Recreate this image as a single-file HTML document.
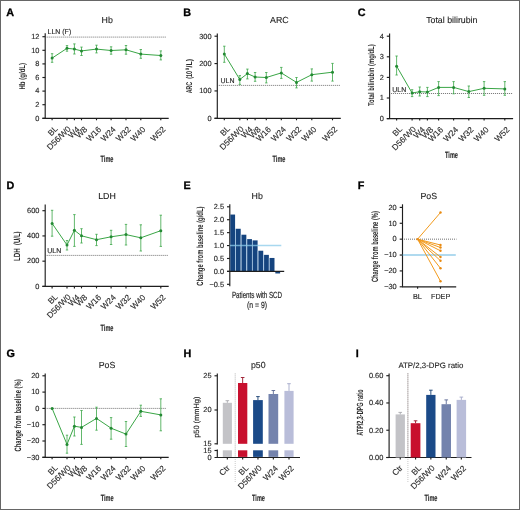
<!DOCTYPE html><html><head><meta charset="utf-8"><style>html,body{margin:0;padding:0;background:#fff}svg{display:block;will-change:transform}text{font-family:"Liberation Sans",sans-serif;text-rendering:geometricPrecision}</style></head><body>
<svg width="520" height="510" viewBox="0 0 520 510">
<rect x="0" y="0" width="520" height="510" fill="#fff"/>
<text x="6.3" y="16.1" font-size="10.8" text-anchor="start" fill="#000" stroke="#000" stroke-width="0.3" font-weight="bold" >A</text>
<text x="107.2" y="22.7" font-size="8.8" text-anchor="middle" fill="#1a1a1a" stroke="#1a1a1a" stroke-width="0.1" >Hb</text>
<line x1="45.2" y1="33.2" x2="45.2" y2="118.3" stroke="#1e1e1e" stroke-width="1.15" />
<line x1="42.4" y1="118.3" x2="45.2" y2="118.3" stroke="#1e1e1e" stroke-width="1.15" />
<text x="39.4" y="120.6" font-size="7.4" text-anchor="end" fill="#2a2a2a" stroke="#2a2a2a" stroke-width="0.15" >0</text>
<line x1="42.4" y1="104.7" x2="45.2" y2="104.7" stroke="#1e1e1e" stroke-width="1.15" />
<text x="39.4" y="107" font-size="7.4" text-anchor="end" fill="#2a2a2a" stroke="#2a2a2a" stroke-width="0.15" >2</text>
<line x1="42.4" y1="91.1" x2="45.2" y2="91.1" stroke="#1e1e1e" stroke-width="1.15" />
<text x="39.4" y="93.4" font-size="7.4" text-anchor="end" fill="#2a2a2a" stroke="#2a2a2a" stroke-width="0.15" >4</text>
<line x1="42.4" y1="77.5" x2="45.2" y2="77.5" stroke="#1e1e1e" stroke-width="1.15" />
<text x="39.4" y="79.8" font-size="7.4" text-anchor="end" fill="#2a2a2a" stroke="#2a2a2a" stroke-width="0.15" >6</text>
<line x1="42.4" y1="63.9" x2="45.2" y2="63.9" stroke="#1e1e1e" stroke-width="1.15" />
<text x="39.4" y="66.2" font-size="7.4" text-anchor="end" fill="#2a2a2a" stroke="#2a2a2a" stroke-width="0.15" >8</text>
<line x1="42.4" y1="50.3" x2="45.2" y2="50.3" stroke="#1e1e1e" stroke-width="1.15" />
<text x="39.4" y="52.6" font-size="7.4" text-anchor="end" fill="#2a2a2a" stroke="#2a2a2a" stroke-width="0.15" >10</text>
<line x1="42.4" y1="36.7" x2="45.2" y2="36.7" stroke="#1e1e1e" stroke-width="1.15" />
<text x="39.4" y="39" font-size="7.4" text-anchor="end" fill="#2a2a2a" stroke="#2a2a2a" stroke-width="0.15" >12</text>
<line x1="42.4" y1="118.3" x2="168.7" y2="118.3" stroke="#1e1e1e" stroke-width="1.15" />
<line x1="52.1" y1="118.3" x2="52.1" y2="120.3" stroke="#1e1e1e" stroke-width="1.15" />
<line x1="67" y1="118.3" x2="67" y2="120.3" stroke="#1e1e1e" stroke-width="1.15" />
<line x1="74.4" y1="118.3" x2="74.4" y2="120.3" stroke="#1e1e1e" stroke-width="1.15" />
<line x1="81.5" y1="118.3" x2="81.5" y2="120.3" stroke="#1e1e1e" stroke-width="1.15" />
<line x1="96.5" y1="118.3" x2="96.5" y2="120.3" stroke="#1e1e1e" stroke-width="1.15" />
<line x1="111.1" y1="118.3" x2="111.1" y2="120.3" stroke="#1e1e1e" stroke-width="1.15" />
<line x1="126" y1="118.3" x2="126" y2="120.3" stroke="#1e1e1e" stroke-width="1.15" />
<line x1="140.8" y1="118.3" x2="140.8" y2="120.3" stroke="#1e1e1e" stroke-width="1.15" />
<line x1="160.8" y1="118.3" x2="160.8" y2="120.3" stroke="#1e1e1e" stroke-width="1.15" />
<text x="58.4" y="129.3" font-size="8.3" text-anchor="end" fill="#2a2a2a" stroke="#2a2a2a" stroke-width="0.12" transform="rotate(-45 58.4 129.3)" >BL</text>
<text x="71.4" y="129.4" font-size="8.3" text-anchor="end" fill="#2a2a2a" stroke="#2a2a2a" stroke-width="0.12" transform="rotate(-45 71.4 129.4)" >D56/W0</text>
<text x="80.2" y="129.9" font-size="8.3" text-anchor="end" fill="#2a2a2a" stroke="#2a2a2a" stroke-width="0.12" transform="rotate(-45 80.2 129.9)" >W4</text>
<text x="87.8" y="129.9" font-size="8.3" text-anchor="end" fill="#2a2a2a" stroke="#2a2a2a" stroke-width="0.12" transform="rotate(-45 87.8 129.9)" >W8</text>
<text x="101.8" y="129.9" font-size="8.3" text-anchor="end" fill="#2a2a2a" stroke="#2a2a2a" stroke-width="0.12" transform="rotate(-45 101.8 129.9)" >W16</text>
<text x="116.4" y="129.9" font-size="8.3" text-anchor="end" fill="#2a2a2a" stroke="#2a2a2a" stroke-width="0.12" transform="rotate(-45 116.4 129.9)" >W24</text>
<text x="131.3" y="129.9" font-size="8.3" text-anchor="end" fill="#2a2a2a" stroke="#2a2a2a" stroke-width="0.12" transform="rotate(-45 131.3 129.9)" >W32</text>
<text x="146.1" y="129.9" font-size="8.3" text-anchor="end" fill="#2a2a2a" stroke="#2a2a2a" stroke-width="0.12" transform="rotate(-45 146.1 129.9)" >W40</text>
<text x="166.1" y="129.9" font-size="8.3" text-anchor="end" fill="#2a2a2a" stroke="#2a2a2a" stroke-width="0.12" transform="rotate(-45 166.1 129.9)" >W52</text>
<line x1="46.7" y1="37.1" x2="165.7" y2="37.1" stroke="#606060" stroke-width="0.9" stroke-dasharray="1 1"/>
<text x="47.5" y="33.8" font-size="7" text-anchor="start" fill="#2a2a2a" stroke="#2a2a2a" stroke-width="0.15" >LLN (F)</text>
<path d="M52.1,58.1 L67,48.3 L74.4,49.1 L81.5,50.9 L96.5,49.1 L111.1,50.5 L126,49.8 L140.8,54.1 L160.8,55.5" fill="none" stroke="#3aa646" stroke-width="1.0"/>
<path d="M52.1,53.7V62.3M50.9,53.7H53.3M50.9,62.3H53.3" stroke="#3aa646" stroke-width="0.8" fill="none"/>
<circle cx="52.1" cy="58.1" r="1.5" fill="#238a33"/>
<path d="M67,45.6V51.2M65.8,45.6H68.2M65.8,51.2H68.2" stroke="#3aa646" stroke-width="0.8" fill="none"/>
<circle cx="67" cy="48.3" r="1.5" fill="#238a33"/>
<path d="M74.4,43.9V54M73.2,43.9H75.6M73.2,54H75.6" stroke="#3aa646" stroke-width="0.8" fill="none"/>
<circle cx="74.4" cy="49.1" r="1.5" fill="#238a33"/>
<path d="M81.5,47.1V55.5M80.3,47.1H82.7M80.3,55.5H82.7" stroke="#3aa646" stroke-width="0.8" fill="none"/>
<circle cx="81.5" cy="50.9" r="1.5" fill="#238a33"/>
<path d="M96.5,45.2V52.9M95.3,45.2H97.7M95.3,52.9H97.7" stroke="#3aa646" stroke-width="0.8" fill="none"/>
<circle cx="96.5" cy="49.1" r="1.5" fill="#238a33"/>
<path d="M111.1,46.8V54.2M109.9,46.8H112.3M109.9,54.2H112.3" stroke="#3aa646" stroke-width="0.8" fill="none"/>
<circle cx="111.1" cy="50.5" r="1.5" fill="#238a33"/>
<path d="M126,45.5V54.2M124.8,45.5H127.2M124.8,54.2H127.2" stroke="#3aa646" stroke-width="0.8" fill="none"/>
<circle cx="126" cy="49.8" r="1.5" fill="#238a33"/>
<path d="M140.8,49.5V58.3M139.6,49.5H142M139.6,58.3H142" stroke="#3aa646" stroke-width="0.8" fill="none"/>
<circle cx="140.8" cy="54.1" r="1.5" fill="#238a33"/>
<path d="M160.8,50.9V59.9M159.6,50.9H162M159.6,59.9H162" stroke="#3aa646" stroke-width="0.8" fill="none"/>
<circle cx="160.8" cy="55.5" r="1.5" fill="#238a33"/>
<text x="25.2" y="76.2" font-size="8.4" text-anchor="middle" fill="#2a2a2a" font-weight="bold" textLength="26.6" lengthAdjust="spacingAndGlyphs" transform="rotate(-90 25.2 76.2)" >Hb (g/dL)</text>
<text x="107" y="162" font-size="9" text-anchor="middle" fill="#2a2a2a" stroke="#2a2a2a" stroke-width="0.15" font-weight="bold" textLength="12.8" lengthAdjust="spacingAndGlyphs" >Time</text>
<text x="183.3" y="16.1" font-size="10.8" text-anchor="start" fill="#000" stroke="#000" stroke-width="0.3" font-weight="bold" >B</text>
<text x="279.4" y="22.7" font-size="8.8" text-anchor="middle" fill="#1a1a1a" stroke="#1a1a1a" stroke-width="0.1" >ARC</text>
<line x1="217.3" y1="33.6" x2="217.3" y2="118.3" stroke="#1e1e1e" stroke-width="1.15" />
<line x1="214.5" y1="118.3" x2="217.3" y2="118.3" stroke="#1e1e1e" stroke-width="1.15" />
<text x="211.5" y="120.6" font-size="7.4" text-anchor="end" fill="#2a2a2a" stroke="#2a2a2a" stroke-width="0.15" >0</text>
<line x1="214.5" y1="90.93" x2="217.3" y2="90.93" stroke="#1e1e1e" stroke-width="1.15" />
<text x="211.5" y="93.23" font-size="7.4" text-anchor="end" fill="#2a2a2a" stroke="#2a2a2a" stroke-width="0.15" >100</text>
<line x1="214.5" y1="63.57" x2="217.3" y2="63.57" stroke="#1e1e1e" stroke-width="1.15" />
<text x="211.5" y="65.87" font-size="7.4" text-anchor="end" fill="#2a2a2a" stroke="#2a2a2a" stroke-width="0.15" >200</text>
<line x1="214.5" y1="36.2" x2="217.3" y2="36.2" stroke="#1e1e1e" stroke-width="1.15" />
<text x="211.5" y="38.5" font-size="7.4" text-anchor="end" fill="#2a2a2a" stroke="#2a2a2a" stroke-width="0.15" >300</text>
<line x1="214.5" y1="118.3" x2="340.8" y2="118.3" stroke="#1e1e1e" stroke-width="1.15" />
<line x1="224.3" y1="118.3" x2="224.3" y2="120.3" stroke="#1e1e1e" stroke-width="1.15" />
<line x1="239.8" y1="118.3" x2="239.8" y2="120.3" stroke="#1e1e1e" stroke-width="1.15" />
<line x1="247.4" y1="118.3" x2="247.4" y2="120.3" stroke="#1e1e1e" stroke-width="1.15" />
<line x1="255.1" y1="118.3" x2="255.1" y2="120.3" stroke="#1e1e1e" stroke-width="1.15" />
<line x1="266.3" y1="118.3" x2="266.3" y2="120.3" stroke="#1e1e1e" stroke-width="1.15" />
<line x1="281.3" y1="118.3" x2="281.3" y2="120.3" stroke="#1e1e1e" stroke-width="1.15" />
<line x1="296.5" y1="118.3" x2="296.5" y2="120.3" stroke="#1e1e1e" stroke-width="1.15" />
<line x1="311.8" y1="118.3" x2="311.8" y2="120.3" stroke="#1e1e1e" stroke-width="1.15" />
<line x1="332.5" y1="118.3" x2="332.5" y2="120.3" stroke="#1e1e1e" stroke-width="1.15" />
<text x="230.6" y="129.3" font-size="8.3" text-anchor="end" fill="#2a2a2a" stroke="#2a2a2a" stroke-width="0.12" transform="rotate(-45 230.6 129.3)" >BL</text>
<text x="244.2" y="129.4" font-size="8.3" text-anchor="end" fill="#2a2a2a" stroke="#2a2a2a" stroke-width="0.12" transform="rotate(-45 244.2 129.4)" >D56/W0</text>
<text x="253.2" y="129.9" font-size="8.3" text-anchor="end" fill="#2a2a2a" stroke="#2a2a2a" stroke-width="0.12" transform="rotate(-45 253.2 129.9)" >W4</text>
<text x="261.4" y="129.9" font-size="8.3" text-anchor="end" fill="#2a2a2a" stroke="#2a2a2a" stroke-width="0.12" transform="rotate(-45 261.4 129.9)" >W8</text>
<text x="271.6" y="129.9" font-size="8.3" text-anchor="end" fill="#2a2a2a" stroke="#2a2a2a" stroke-width="0.12" transform="rotate(-45 271.6 129.9)" >W16</text>
<text x="286.6" y="129.9" font-size="8.3" text-anchor="end" fill="#2a2a2a" stroke="#2a2a2a" stroke-width="0.12" transform="rotate(-45 286.6 129.9)" >W24</text>
<text x="301.8" y="129.9" font-size="8.3" text-anchor="end" fill="#2a2a2a" stroke="#2a2a2a" stroke-width="0.12" transform="rotate(-45 301.8 129.9)" >W32</text>
<text x="317.1" y="129.9" font-size="8.3" text-anchor="end" fill="#2a2a2a" stroke="#2a2a2a" stroke-width="0.12" transform="rotate(-45 317.1 129.9)" >W40</text>
<text x="337.8" y="129.9" font-size="8.3" text-anchor="end" fill="#2a2a2a" stroke="#2a2a2a" stroke-width="0.12" transform="rotate(-45 337.8 129.9)" >W52</text>
<line x1="218.8" y1="85.4" x2="340.3" y2="85.4" stroke="#606060" stroke-width="0.9" stroke-dasharray="1 1"/>
<text x="220.5" y="83.4" font-size="7" text-anchor="start" fill="#2a2a2a" stroke="#2a2a2a" stroke-width="0.15" >ULN</text>
<path d="M224.3,54 L239.8,79.5 L247.4,73.6 L255.1,77 L266.3,77.5 L281.3,72.9 L296.5,82.4 L311.8,74.7 L332.5,72.2" fill="none" stroke="#3aa646" stroke-width="1.0"/>
<path d="M224.3,46.2V62.3M223.1,46.2H225.5M223.1,62.3H225.5" stroke="#3aa646" stroke-width="0.8" fill="none"/>
<circle cx="224.3" cy="54" r="1.5" fill="#238a33"/>
<path d="M239.8,75.6V84.4M238.6,75.6H241M238.6,84.4H241" stroke="#3aa646" stroke-width="0.8" fill="none"/>
<circle cx="239.8" cy="79.5" r="1.5" fill="#238a33"/>
<path d="M247.4,69.1V78.9M246.2,69.1H248.6M246.2,78.9H248.6" stroke="#3aa646" stroke-width="0.8" fill="none"/>
<circle cx="247.4" cy="73.6" r="1.5" fill="#238a33"/>
<path d="M255.1,72.5V81.3M253.9,72.5H256.3M253.9,81.3H256.3" stroke="#3aa646" stroke-width="0.8" fill="none"/>
<circle cx="255.1" cy="77" r="1.5" fill="#238a33"/>
<path d="M266.3,72.5V82.9M265.1,72.5H267.5M265.1,82.9H267.5" stroke="#3aa646" stroke-width="0.8" fill="none"/>
<circle cx="266.3" cy="77.5" r="1.5" fill="#238a33"/>
<path d="M281.3,67.4V78.4M280.1,67.4H282.5M280.1,78.4H282.5" stroke="#3aa646" stroke-width="0.8" fill="none"/>
<circle cx="281.3" cy="72.9" r="1.5" fill="#238a33"/>
<path d="M296.5,77.5V87.9M295.3,77.5H297.7M295.3,87.9H297.7" stroke="#3aa646" stroke-width="0.8" fill="none"/>
<circle cx="296.5" cy="82.4" r="1.5" fill="#238a33"/>
<path d="M311.8,68.9V81.1M310.6,68.9H313M310.6,81.1H313" stroke="#3aa646" stroke-width="0.8" fill="none"/>
<circle cx="311.8" cy="74.7" r="1.5" fill="#238a33"/>
<path d="M332.5,63.4V81.1M331.3,63.4H333.7M331.3,81.1H333.7" stroke="#3aa646" stroke-width="0.8" fill="none"/>
<circle cx="332.5" cy="72.2" r="1.5" fill="#238a33"/>
<text x="192.3" y="87.6" font-size="8.4" text-anchor="middle" fill="#2a2a2a" font-weight="bold" textLength="11.5" lengthAdjust="spacingAndGlyphs" transform="rotate(-90 192.3 87.6)" >ARC</text>
<text x="192.3" y="74.85" font-size="8.4" text-anchor="middle" fill="#2a2a2a" font-weight="bold" textLength="7.9" lengthAdjust="spacingAndGlyphs" transform="rotate(-90 192.3 74.85)" >(10</text>
<text x="189.4" y="69.1" font-size="5" text-anchor="middle" fill="#2a2a2a" font-weight="bold" textLength="2.4" lengthAdjust="spacingAndGlyphs" transform="rotate(-90 189.4 69.1)" >9</text>
<text x="192.3" y="63.2" font-size="8.4" text-anchor="middle" fill="#2a2a2a" font-weight="bold" textLength="8.5" lengthAdjust="spacingAndGlyphs" transform="rotate(-90 192.3 63.2)" >/L)</text>
<text x="279" y="162" font-size="9" text-anchor="middle" fill="#2a2a2a" stroke="#2a2a2a" stroke-width="0.15" font-weight="bold" textLength="12.8" lengthAdjust="spacingAndGlyphs" >Time</text>
<text x="357.8" y="16.1" font-size="10.8" text-anchor="start" fill="#000" stroke="#000" stroke-width="0.3" font-weight="bold" >C</text>
<text x="451.8" y="22.7" font-size="8.8" text-anchor="middle" fill="#1a1a1a" stroke="#1a1a1a" stroke-width="0.1" >Total bilirubin</text>
<line x1="389.6" y1="33.6" x2="389.6" y2="118.6" stroke="#1e1e1e" stroke-width="1.15" />
<line x1="386.8" y1="118.6" x2="389.6" y2="118.6" stroke="#1e1e1e" stroke-width="1.15" />
<text x="383.8" y="120.9" font-size="7.4" text-anchor="end" fill="#2a2a2a" stroke="#2a2a2a" stroke-width="0.15" >0</text>
<line x1="386.8" y1="98" x2="389.6" y2="98" stroke="#1e1e1e" stroke-width="1.15" />
<text x="383.8" y="100.3" font-size="7.4" text-anchor="end" fill="#2a2a2a" stroke="#2a2a2a" stroke-width="0.15" >1</text>
<line x1="386.8" y1="77.4" x2="389.6" y2="77.4" stroke="#1e1e1e" stroke-width="1.15" />
<text x="383.8" y="79.7" font-size="7.4" text-anchor="end" fill="#2a2a2a" stroke="#2a2a2a" stroke-width="0.15" >2</text>
<line x1="386.8" y1="56.8" x2="389.6" y2="56.8" stroke="#1e1e1e" stroke-width="1.15" />
<text x="383.8" y="59.1" font-size="7.4" text-anchor="end" fill="#2a2a2a" stroke="#2a2a2a" stroke-width="0.15" >3</text>
<line x1="386.8" y1="36.2" x2="389.6" y2="36.2" stroke="#1e1e1e" stroke-width="1.15" />
<text x="383.8" y="38.5" font-size="7.4" text-anchor="end" fill="#2a2a2a" stroke="#2a2a2a" stroke-width="0.15" >4</text>
<line x1="386.8" y1="118.6" x2="513.1" y2="118.6" stroke="#1e1e1e" stroke-width="1.15" />
<line x1="396.6" y1="118.6" x2="396.6" y2="120.6" stroke="#1e1e1e" stroke-width="1.15" />
<line x1="412.1" y1="118.6" x2="412.1" y2="120.6" stroke="#1e1e1e" stroke-width="1.15" />
<line x1="419.7" y1="118.6" x2="419.7" y2="120.6" stroke="#1e1e1e" stroke-width="1.15" />
<line x1="427.4" y1="118.6" x2="427.4" y2="120.6" stroke="#1e1e1e" stroke-width="1.15" />
<line x1="438.6" y1="118.6" x2="438.6" y2="120.6" stroke="#1e1e1e" stroke-width="1.15" />
<line x1="453.6" y1="118.6" x2="453.6" y2="120.6" stroke="#1e1e1e" stroke-width="1.15" />
<line x1="468.8" y1="118.6" x2="468.8" y2="120.6" stroke="#1e1e1e" stroke-width="1.15" />
<line x1="484.1" y1="118.6" x2="484.1" y2="120.6" stroke="#1e1e1e" stroke-width="1.15" />
<line x1="504.8" y1="118.6" x2="504.8" y2="120.6" stroke="#1e1e1e" stroke-width="1.15" />
<text x="402.9" y="129.6" font-size="8.3" text-anchor="end" fill="#2a2a2a" stroke="#2a2a2a" stroke-width="0.12" transform="rotate(-45 402.9 129.6)" >BL</text>
<text x="416.5" y="129.7" font-size="8.3" text-anchor="end" fill="#2a2a2a" stroke="#2a2a2a" stroke-width="0.12" transform="rotate(-45 416.5 129.7)" >D56/W0</text>
<text x="425.5" y="130.2" font-size="8.3" text-anchor="end" fill="#2a2a2a" stroke="#2a2a2a" stroke-width="0.12" transform="rotate(-45 425.5 130.2)" >W4</text>
<text x="433.7" y="130.2" font-size="8.3" text-anchor="end" fill="#2a2a2a" stroke="#2a2a2a" stroke-width="0.12" transform="rotate(-45 433.7 130.2)" >W8</text>
<text x="443.9" y="130.2" font-size="8.3" text-anchor="end" fill="#2a2a2a" stroke="#2a2a2a" stroke-width="0.12" transform="rotate(-45 443.9 130.2)" >W16</text>
<text x="458.9" y="130.2" font-size="8.3" text-anchor="end" fill="#2a2a2a" stroke="#2a2a2a" stroke-width="0.12" transform="rotate(-45 458.9 130.2)" >W24</text>
<text x="474.1" y="130.2" font-size="8.3" text-anchor="end" fill="#2a2a2a" stroke="#2a2a2a" stroke-width="0.12" transform="rotate(-45 474.1 130.2)" >W32</text>
<text x="489.4" y="130.2" font-size="8.3" text-anchor="end" fill="#2a2a2a" stroke="#2a2a2a" stroke-width="0.12" transform="rotate(-45 489.4 130.2)" >W40</text>
<text x="510.1" y="130.2" font-size="8.3" text-anchor="end" fill="#2a2a2a" stroke="#2a2a2a" stroke-width="0.12" transform="rotate(-45 510.1 130.2)" >W52</text>
<line x1="391.1" y1="93.5" x2="512.1" y2="93.5" stroke="#606060" stroke-width="0.9" stroke-dasharray="1 1"/>
<text x="392.3" y="91.7" font-size="7" text-anchor="start" fill="#2a2a2a" stroke="#2a2a2a" stroke-width="0.15" >ULN</text>
<path d="M396.6,66.2 L412.1,93 L419.7,91.7 L427.4,92 L438.6,87.4 L453.6,87.4 L468.8,91.6 L484.1,88.3 L504.8,88.9" fill="none" stroke="#3aa646" stroke-width="1.0"/>
<path d="M396.6,56V75M395.4,56H397.8M395.4,75H397.8" stroke="#3aa646" stroke-width="0.8" fill="none"/>
<circle cx="396.6" cy="66.2" r="1.5" fill="#238a33"/>
<path d="M412.1,89.7V96.6M410.9,89.7H413.3M410.9,96.6H413.3" stroke="#3aa646" stroke-width="0.8" fill="none"/>
<circle cx="412.1" cy="93" r="1.5" fill="#238a33"/>
<path d="M419.7,87V96M418.5,87H420.9M418.5,96H420.9" stroke="#3aa646" stroke-width="0.8" fill="none"/>
<circle cx="419.7" cy="91.7" r="1.5" fill="#238a33"/>
<path d="M427.4,87.4V96.6M426.2,87.4H428.6M426.2,96.6H428.6" stroke="#3aa646" stroke-width="0.8" fill="none"/>
<circle cx="427.4" cy="92" r="1.5" fill="#238a33"/>
<path d="M438.6,81.6V95.6M437.4,81.6H439.8M437.4,95.6H439.8" stroke="#3aa646" stroke-width="0.8" fill="none"/>
<circle cx="438.6" cy="87.4" r="1.5" fill="#238a33"/>
<path d="M453.6,81.6V93.8M452.4,81.6H454.8M452.4,93.8H454.8" stroke="#3aa646" stroke-width="0.8" fill="none"/>
<circle cx="453.6" cy="87.4" r="1.5" fill="#238a33"/>
<path d="M468.8,86V97.5M467.6,86H470M467.6,97.5H470" stroke="#3aa646" stroke-width="0.8" fill="none"/>
<circle cx="468.8" cy="91.6" r="1.5" fill="#238a33"/>
<path d="M484.1,81.6V95.3M482.9,81.6H485.3M482.9,95.3H485.3" stroke="#3aa646" stroke-width="0.8" fill="none"/>
<circle cx="484.1" cy="88.3" r="1.5" fill="#238a33"/>
<path d="M504.8,81.6V95.3M503.6,81.6H506M503.6,95.3H506" stroke="#3aa646" stroke-width="0.8" fill="none"/>
<circle cx="504.8" cy="88.9" r="1.5" fill="#238a33"/>
<text x="374.1" y="75.2" font-size="8.4" text-anchor="middle" fill="#2a2a2a" font-weight="bold" textLength="61.8" lengthAdjust="spacingAndGlyphs" transform="rotate(-90 374.1 75.2)" >Total bilirubin (mg/dL)</text>
<text x="451.5" y="158.3" font-size="9" text-anchor="middle" fill="#2a2a2a" stroke="#2a2a2a" stroke-width="0.15" font-weight="bold" textLength="12.8" lengthAdjust="spacingAndGlyphs" >Time</text>
<text x="6.5" y="188.7" font-size="10.8" text-anchor="start" fill="#000" stroke="#000" stroke-width="0.3" font-weight="bold" >D</text>
<text x="107" y="199.4" font-size="8.8" text-anchor="middle" fill="#1a1a1a" stroke="#1a1a1a" stroke-width="0.1" >LDH</text>
<line x1="45.2" y1="204.4" x2="45.2" y2="286.4" stroke="#1e1e1e" stroke-width="1.15" />
<line x1="42.4" y1="286.4" x2="45.2" y2="286.4" stroke="#1e1e1e" stroke-width="1.15" />
<text x="39.4" y="288.7" font-size="7.4" text-anchor="end" fill="#2a2a2a" stroke="#2a2a2a" stroke-width="0.15" >0</text>
<line x1="42.4" y1="261.17" x2="45.2" y2="261.17" stroke="#1e1e1e" stroke-width="1.15" />
<text x="39.4" y="263.47" font-size="7.4" text-anchor="end" fill="#2a2a2a" stroke="#2a2a2a" stroke-width="0.15" >200</text>
<line x1="42.4" y1="235.93" x2="45.2" y2="235.93" stroke="#1e1e1e" stroke-width="1.15" />
<text x="39.4" y="238.23" font-size="7.4" text-anchor="end" fill="#2a2a2a" stroke="#2a2a2a" stroke-width="0.15" >400</text>
<line x1="42.4" y1="210.7" x2="45.2" y2="210.7" stroke="#1e1e1e" stroke-width="1.15" />
<text x="39.4" y="213" font-size="7.4" text-anchor="end" fill="#2a2a2a" stroke="#2a2a2a" stroke-width="0.15" >600</text>
<line x1="42.4" y1="286.4" x2="168.7" y2="286.4" stroke="#1e1e1e" stroke-width="1.15" />
<line x1="52.1" y1="286.4" x2="52.1" y2="288.4" stroke="#1e1e1e" stroke-width="1.15" />
<line x1="67" y1="286.4" x2="67" y2="288.4" stroke="#1e1e1e" stroke-width="1.15" />
<line x1="74.4" y1="286.4" x2="74.4" y2="288.4" stroke="#1e1e1e" stroke-width="1.15" />
<line x1="81.5" y1="286.4" x2="81.5" y2="288.4" stroke="#1e1e1e" stroke-width="1.15" />
<line x1="96.5" y1="286.4" x2="96.5" y2="288.4" stroke="#1e1e1e" stroke-width="1.15" />
<line x1="111.1" y1="286.4" x2="111.1" y2="288.4" stroke="#1e1e1e" stroke-width="1.15" />
<line x1="126" y1="286.4" x2="126" y2="288.4" stroke="#1e1e1e" stroke-width="1.15" />
<line x1="140.8" y1="286.4" x2="140.8" y2="288.4" stroke="#1e1e1e" stroke-width="1.15" />
<line x1="160.8" y1="286.4" x2="160.8" y2="288.4" stroke="#1e1e1e" stroke-width="1.15" />
<text x="58.4" y="297.4" font-size="8.3" text-anchor="end" fill="#2a2a2a" stroke="#2a2a2a" stroke-width="0.12" transform="rotate(-45 58.4 297.4)" >BL</text>
<text x="71.4" y="297.5" font-size="8.3" text-anchor="end" fill="#2a2a2a" stroke="#2a2a2a" stroke-width="0.12" transform="rotate(-45 71.4 297.5)" >D56/W0</text>
<text x="80.2" y="298" font-size="8.3" text-anchor="end" fill="#2a2a2a" stroke="#2a2a2a" stroke-width="0.12" transform="rotate(-45 80.2 298)" >W4</text>
<text x="87.8" y="298" font-size="8.3" text-anchor="end" fill="#2a2a2a" stroke="#2a2a2a" stroke-width="0.12" transform="rotate(-45 87.8 298)" >W8</text>
<text x="101.8" y="298" font-size="8.3" text-anchor="end" fill="#2a2a2a" stroke="#2a2a2a" stroke-width="0.12" transform="rotate(-45 101.8 298)" >W16</text>
<text x="116.4" y="298" font-size="8.3" text-anchor="end" fill="#2a2a2a" stroke="#2a2a2a" stroke-width="0.12" transform="rotate(-45 116.4 298)" >W24</text>
<text x="131.3" y="298" font-size="8.3" text-anchor="end" fill="#2a2a2a" stroke="#2a2a2a" stroke-width="0.12" transform="rotate(-45 131.3 298)" >W32</text>
<text x="146.1" y="298" font-size="8.3" text-anchor="end" fill="#2a2a2a" stroke="#2a2a2a" stroke-width="0.12" transform="rotate(-45 146.1 298)" >W40</text>
<text x="166.1" y="298" font-size="8.3" text-anchor="end" fill="#2a2a2a" stroke="#2a2a2a" stroke-width="0.12" transform="rotate(-45 166.1 298)" >W52</text>
<line x1="46.7" y1="255.4" x2="167.9" y2="255.4" stroke="#606060" stroke-width="0.9" stroke-dasharray="1 1"/>
<text x="47.2" y="252.8" font-size="7" text-anchor="start" fill="#2a2a2a" stroke="#2a2a2a" stroke-width="0.15" >ULN</text>
<path d="M52.1,223.4 L67,245 L74.4,230.3 L81.5,235.8 L96.5,239.7 L111.1,236.8 L126,234.6 L140.8,237.8 L160.8,230.7" fill="none" stroke="#3aa646" stroke-width="1.0"/>
<path d="M52.1,210.3V236.2M50.9,210.3H53.3M50.9,236.2H53.3" stroke="#3aa646" stroke-width="0.8" fill="none"/>
<circle cx="52.1" cy="223.4" r="1.5" fill="#238a33"/>
<path d="M67,240.5V250M65.8,240.5H68.2M65.8,250H68.2" stroke="#3aa646" stroke-width="0.8" fill="none"/>
<circle cx="67" cy="245" r="1.5" fill="#238a33"/>
<path d="M74.4,214.6V246.4M73.2,214.6H75.6M73.2,246.4H75.6" stroke="#3aa646" stroke-width="0.8" fill="none"/>
<circle cx="74.4" cy="230.3" r="1.5" fill="#238a33"/>
<path d="M81.5,228.7V243M80.3,228.7H82.7M80.3,243H82.7" stroke="#3aa646" stroke-width="0.8" fill="none"/>
<circle cx="81.5" cy="235.8" r="1.5" fill="#238a33"/>
<path d="M96.5,234.3V245.6M95.3,234.3H97.7M95.3,245.6H97.7" stroke="#3aa646" stroke-width="0.8" fill="none"/>
<circle cx="96.5" cy="239.7" r="1.5" fill="#238a33"/>
<path d="M111.1,230.3V244.5M109.9,230.3H112.3M109.9,244.5H112.3" stroke="#3aa646" stroke-width="0.8" fill="none"/>
<circle cx="111.1" cy="236.8" r="1.5" fill="#238a33"/>
<path d="M126,224.4V245M124.8,224.4H127.2M124.8,245H127.2" stroke="#3aa646" stroke-width="0.8" fill="none"/>
<circle cx="126" cy="234.6" r="1.5" fill="#238a33"/>
<path d="M140.8,224.8V251M139.6,224.8H142M139.6,251H142" stroke="#3aa646" stroke-width="0.8" fill="none"/>
<circle cx="140.8" cy="237.8" r="1.5" fill="#238a33"/>
<path d="M160.8,215.2V246.4M159.6,215.2H162M159.6,246.4H162" stroke="#3aa646" stroke-width="0.8" fill="none"/>
<circle cx="160.8" cy="230.7" r="1.5" fill="#238a33"/>
<text x="19.9" y="254.6" font-size="9" text-anchor="middle" fill="#2a2a2a" font-weight="bold" textLength="12.8" lengthAdjust="spacingAndGlyphs" transform="rotate(-90 19.9 254.6)" >LDH</text>
<text x="19.9" y="238.2" font-size="9" text-anchor="middle" fill="#2a2a2a" font-weight="bold" textLength="13.5" lengthAdjust="spacingAndGlyphs" transform="rotate(-90 19.9 238.2)" >(U/L)</text>
<text x="107" y="330.5" font-size="9" text-anchor="middle" fill="#2a2a2a" stroke="#2a2a2a" stroke-width="0.15" font-weight="bold" textLength="12.8" lengthAdjust="spacingAndGlyphs" >Time</text>
<text x="6.5" y="357.1" font-size="10.8" text-anchor="start" fill="#000" stroke="#000" stroke-width="0.3" font-weight="bold" >G</text>
<text x="107" y="367.8" font-size="8.8" text-anchor="middle" fill="#1a1a1a" stroke="#1a1a1a" stroke-width="0.1" >PoS</text>
<line x1="45.2" y1="373.4" x2="45.2" y2="457.3" stroke="#1e1e1e" stroke-width="1.15" />
<line x1="42.4" y1="457.3" x2="45.2" y2="457.3" stroke="#1e1e1e" stroke-width="1.15" />
<text x="39.4" y="459.6" font-size="7.4" text-anchor="end" fill="#2a2a2a" stroke="#2a2a2a" stroke-width="0.15" >−30</text>
<line x1="42.4" y1="441" x2="45.2" y2="441" stroke="#1e1e1e" stroke-width="1.15" />
<text x="39.4" y="443.3" font-size="7.4" text-anchor="end" fill="#2a2a2a" stroke="#2a2a2a" stroke-width="0.15" >−20</text>
<line x1="42.4" y1="424.7" x2="45.2" y2="424.7" stroke="#1e1e1e" stroke-width="1.15" />
<text x="39.4" y="427" font-size="7.4" text-anchor="end" fill="#2a2a2a" stroke="#2a2a2a" stroke-width="0.15" >−10</text>
<line x1="42.4" y1="408.4" x2="45.2" y2="408.4" stroke="#1e1e1e" stroke-width="1.15" />
<text x="39.4" y="410.7" font-size="7.4" text-anchor="end" fill="#2a2a2a" stroke="#2a2a2a" stroke-width="0.15" >0</text>
<line x1="42.4" y1="392.1" x2="45.2" y2="392.1" stroke="#1e1e1e" stroke-width="1.15" />
<text x="39.4" y="394.4" font-size="7.4" text-anchor="end" fill="#2a2a2a" stroke="#2a2a2a" stroke-width="0.15" >10</text>
<line x1="42.4" y1="375.8" x2="45.2" y2="375.8" stroke="#1e1e1e" stroke-width="1.15" />
<text x="39.4" y="378.1" font-size="7.4" text-anchor="end" fill="#2a2a2a" stroke="#2a2a2a" stroke-width="0.15" >20</text>
<line x1="42.4" y1="457.3" x2="168.7" y2="457.3" stroke="#1e1e1e" stroke-width="1.15" />
<line x1="52.1" y1="457.3" x2="52.1" y2="459.3" stroke="#1e1e1e" stroke-width="1.15" />
<line x1="67" y1="457.3" x2="67" y2="459.3" stroke="#1e1e1e" stroke-width="1.15" />
<line x1="74.4" y1="457.3" x2="74.4" y2="459.3" stroke="#1e1e1e" stroke-width="1.15" />
<line x1="81.5" y1="457.3" x2="81.5" y2="459.3" stroke="#1e1e1e" stroke-width="1.15" />
<line x1="96.5" y1="457.3" x2="96.5" y2="459.3" stroke="#1e1e1e" stroke-width="1.15" />
<line x1="111.1" y1="457.3" x2="111.1" y2="459.3" stroke="#1e1e1e" stroke-width="1.15" />
<line x1="126" y1="457.3" x2="126" y2="459.3" stroke="#1e1e1e" stroke-width="1.15" />
<line x1="140.8" y1="457.3" x2="140.8" y2="459.3" stroke="#1e1e1e" stroke-width="1.15" />
<line x1="160.8" y1="457.3" x2="160.8" y2="459.3" stroke="#1e1e1e" stroke-width="1.15" />
<text x="58.4" y="468.3" font-size="8.3" text-anchor="end" fill="#2a2a2a" stroke="#2a2a2a" stroke-width="0.12" transform="rotate(-45 58.4 468.3)" >BL</text>
<text x="71.4" y="468.4" font-size="8.3" text-anchor="end" fill="#2a2a2a" stroke="#2a2a2a" stroke-width="0.12" transform="rotate(-45 71.4 468.4)" >D56/W0</text>
<text x="80.2" y="468.9" font-size="8.3" text-anchor="end" fill="#2a2a2a" stroke="#2a2a2a" stroke-width="0.12" transform="rotate(-45 80.2 468.9)" >W4</text>
<text x="87.8" y="468.9" font-size="8.3" text-anchor="end" fill="#2a2a2a" stroke="#2a2a2a" stroke-width="0.12" transform="rotate(-45 87.8 468.9)" >W8</text>
<text x="101.8" y="468.9" font-size="8.3" text-anchor="end" fill="#2a2a2a" stroke="#2a2a2a" stroke-width="0.12" transform="rotate(-45 101.8 468.9)" >W16</text>
<text x="116.4" y="468.9" font-size="8.3" text-anchor="end" fill="#2a2a2a" stroke="#2a2a2a" stroke-width="0.12" transform="rotate(-45 116.4 468.9)" >W24</text>
<text x="131.3" y="468.9" font-size="8.3" text-anchor="end" fill="#2a2a2a" stroke="#2a2a2a" stroke-width="0.12" transform="rotate(-45 131.3 468.9)" >W32</text>
<text x="146.1" y="468.9" font-size="8.3" text-anchor="end" fill="#2a2a2a" stroke="#2a2a2a" stroke-width="0.12" transform="rotate(-45 146.1 468.9)" >W40</text>
<text x="166.1" y="468.9" font-size="8.3" text-anchor="end" fill="#2a2a2a" stroke="#2a2a2a" stroke-width="0.12" transform="rotate(-45 166.1 468.9)" >W52</text>
<line x1="46.7" y1="408.4" x2="166.4" y2="408.4" stroke="#606060" stroke-width="0.9" stroke-dasharray="1 1"/>
<text x="0" y="0" font-size="7" text-anchor="start" fill="#2a2a2a" stroke="#2a2a2a" stroke-width="0.15" ></text>
<path d="M52.1,408.4 L67,444.4 L74.4,426.2 L81.5,427.4 L96.5,418.4 L111.1,428.2 L126,434.1 L140.8,411.3 L160.8,414.9" fill="none" stroke="#3aa646" stroke-width="1.0"/>
<path d="M52.1,408.4V408.4M50.9,408.4H53.3M50.9,408.4H53.3" stroke="#3aa646" stroke-width="0.8" fill="none"/>
<circle cx="52.1" cy="408.4" r="1.5" fill="#238a33"/>
<path d="M67,435.2V453.2M65.8,435.2H68.2M65.8,453.2H68.2" stroke="#3aa646" stroke-width="0.8" fill="none"/>
<circle cx="67" cy="444.4" r="1.5" fill="#238a33"/>
<path d="M74.4,417V436M73.2,417H75.6M73.2,436H75.6" stroke="#3aa646" stroke-width="0.8" fill="none"/>
<circle cx="74.4" cy="426.2" r="1.5" fill="#238a33"/>
<path d="M81.5,410.5V444.4M80.3,410.5H82.7M80.3,444.4H82.7" stroke="#3aa646" stroke-width="0.8" fill="none"/>
<circle cx="81.5" cy="427.4" r="1.5" fill="#238a33"/>
<path d="M96.5,407.2V430.2M95.3,407.2H97.7M95.3,430.2H97.7" stroke="#3aa646" stroke-width="0.8" fill="none"/>
<circle cx="96.5" cy="418.4" r="1.5" fill="#238a33"/>
<path d="M111.1,417.6V439.2M109.9,417.6H112.3M109.9,439.2H112.3" stroke="#3aa646" stroke-width="0.8" fill="none"/>
<circle cx="111.1" cy="428.2" r="1.5" fill="#238a33"/>
<path d="M126,421.5V446.5M124.8,421.5H127.2M124.8,446.5H127.2" stroke="#3aa646" stroke-width="0.8" fill="none"/>
<circle cx="126" cy="434.1" r="1.5" fill="#238a33"/>
<path d="M140.8,405.2V416.4M139.6,405.2H142M139.6,416.4H142" stroke="#3aa646" stroke-width="0.8" fill="none"/>
<circle cx="140.8" cy="411.3" r="1.5" fill="#238a33"/>
<path d="M160.8,398.8V430.8M159.6,398.8H162M159.6,430.8H162" stroke="#3aa646" stroke-width="0.8" fill="none"/>
<circle cx="160.8" cy="414.9" r="1.5" fill="#238a33"/>
<text x="20.6" y="415.4" font-size="9.2" text-anchor="middle" fill="#2a2a2a" font-weight="bold" textLength="72.2" lengthAdjust="spacingAndGlyphs" transform="rotate(-90 20.6 415.4)" >Change from baseline (%)</text>
<text x="107.2" y="501" font-size="9" text-anchor="middle" fill="#2a2a2a" stroke="#2a2a2a" stroke-width="0.15" font-weight="bold" textLength="12.8" lengthAdjust="spacingAndGlyphs" >Time</text>
<text x="183.6" y="188.7" font-size="10.8" text-anchor="start" fill="#000" stroke="#000" stroke-width="0.3" font-weight="bold" >E</text>
<text x="257.2" y="199.4" font-size="8.8" text-anchor="middle" fill="#1a1a1a" stroke="#1a1a1a" stroke-width="0.1" >Hb</text>
<line x1="229.8" y1="204.2" x2="229.8" y2="286.2" stroke="#1e1e1e" stroke-width="1.15" />
<line x1="227" y1="284.32" x2="229.8" y2="284.32" stroke="#1e1e1e" stroke-width="1.15" />
<text x="224" y="286.62" font-size="7.4" text-anchor="end" fill="#2a2a2a" stroke="#2a2a2a" stroke-width="0.15" >−0.5</text>
<line x1="227" y1="271.4" x2="229.8" y2="271.4" stroke="#1e1e1e" stroke-width="1.15" />
<text x="224" y="273.7" font-size="7.4" text-anchor="end" fill="#2a2a2a" stroke="#2a2a2a" stroke-width="0.15" >0.0</text>
<line x1="227" y1="258.48" x2="229.8" y2="258.48" stroke="#1e1e1e" stroke-width="1.15" />
<text x="224" y="260.78" font-size="7.4" text-anchor="end" fill="#2a2a2a" stroke="#2a2a2a" stroke-width="0.15" >0.5</text>
<line x1="227" y1="245.56" x2="229.8" y2="245.56" stroke="#1e1e1e" stroke-width="1.15" />
<text x="224" y="247.86" font-size="7.4" text-anchor="end" fill="#2a2a2a" stroke="#2a2a2a" stroke-width="0.15" >1.0</text>
<line x1="227" y1="232.64" x2="229.8" y2="232.64" stroke="#1e1e1e" stroke-width="1.15" />
<text x="224" y="234.94" font-size="7.4" text-anchor="end" fill="#2a2a2a" stroke="#2a2a2a" stroke-width="0.15" >1.5</text>
<line x1="227" y1="219.72" x2="229.8" y2="219.72" stroke="#1e1e1e" stroke-width="1.15" />
<text x="224" y="222.02" font-size="7.4" text-anchor="end" fill="#2a2a2a" stroke="#2a2a2a" stroke-width="0.15" >2.0</text>
<line x1="227" y1="206.8" x2="229.8" y2="206.8" stroke="#1e1e1e" stroke-width="1.15" />
<text x="224" y="209.1" font-size="7.4" text-anchor="end" fill="#2a2a2a" stroke="#2a2a2a" stroke-width="0.15" >2.5</text>
<rect x="230.3" y="214.55" width="4.78" height="56.85" fill="#15447f"/>
<rect x="235.08" y="228.76" width="0.85" height="42.64" fill="#9ec0e0"/>
<rect x="235.93" y="228.76" width="4.78" height="42.64" fill="#15447f"/>
<rect x="240.71" y="234.71" width="0.85" height="36.69" fill="#9ec0e0"/>
<rect x="241.56" y="234.71" width="4.78" height="36.69" fill="#15447f"/>
<rect x="246.34" y="239.1" width="0.85" height="32.3" fill="#9ec0e0"/>
<rect x="247.19" y="239.1" width="4.78" height="32.3" fill="#15447f"/>
<rect x="251.97" y="240.39" width="0.85" height="31.01" fill="#9ec0e0"/>
<rect x="252.82" y="240.39" width="4.78" height="31.01" fill="#15447f"/>
<rect x="257.6" y="250.73" width="0.85" height="20.67" fill="#9ec0e0"/>
<rect x="258.45" y="250.73" width="4.78" height="20.67" fill="#15447f"/>
<rect x="263.23" y="254.86" width="0.85" height="16.54" fill="#9ec0e0"/>
<rect x="264.08" y="254.86" width="4.78" height="16.54" fill="#15447f"/>
<rect x="268.86" y="257.96" width="0.85" height="13.44" fill="#9ec0e0"/>
<rect x="269.71" y="257.96" width="4.78" height="13.44" fill="#15447f"/>
<rect x="275.34" y="271.4" width="4.78" height="2.07" fill="#15447f"/>
<line x1="229.8" y1="245.56" x2="281.3" y2="245.56" stroke="#8ccbea" stroke-width="1.4" opacity="0.75"/>
<line x1="227" y1="271.4" x2="284.2" y2="271.4" stroke="#1e1e1e" stroke-width="1.15" />
<text x="202.6" y="246.2" font-size="9" text-anchor="middle" fill="#2a2a2a" font-weight="bold" textLength="79.3" lengthAdjust="spacingAndGlyphs" transform="rotate(-90 202.6 246.2)" >Change from baseline (g/dL)</text>
<text x="257" y="297.9" font-size="8.9" text-anchor="middle" fill="#2a2a2a" stroke="#2a2a2a" stroke-width="0.2" textLength="50.2" lengthAdjust="spacingAndGlyphs" >Patients with SCD</text>
<text x="257" y="308.3" font-size="8.9" text-anchor="middle" fill="#2a2a2a" stroke="#2a2a2a" stroke-width="0.2" textLength="20" lengthAdjust="spacingAndGlyphs" >(n = 9)</text>
<text x="357.8" y="188.7" font-size="10.8" text-anchor="start" fill="#000" stroke="#000" stroke-width="0.3" font-weight="bold" >F</text>
<text x="428.8" y="199.4" font-size="8.8" text-anchor="middle" fill="#1a1a1a" stroke="#1a1a1a" stroke-width="0.1" >PoS</text>
<line x1="402.5" y1="204.3" x2="402.5" y2="286.8" stroke="#1e1e1e" stroke-width="1.15" />
<line x1="399.7" y1="286.8" x2="402.5" y2="286.8" stroke="#1e1e1e" stroke-width="1.15" />
<text x="396.7" y="289.1" font-size="7.4" text-anchor="end" fill="#2a2a2a" stroke="#2a2a2a" stroke-width="0.15" >−30</text>
<line x1="399.7" y1="270.92" x2="402.5" y2="270.92" stroke="#1e1e1e" stroke-width="1.15" />
<text x="396.7" y="273.22" font-size="7.4" text-anchor="end" fill="#2a2a2a" stroke="#2a2a2a" stroke-width="0.15" >−20</text>
<line x1="399.7" y1="255.04" x2="402.5" y2="255.04" stroke="#1e1e1e" stroke-width="1.15" />
<text x="396.7" y="257.34" font-size="7.4" text-anchor="end" fill="#2a2a2a" stroke="#2a2a2a" stroke-width="0.15" >−10</text>
<line x1="399.7" y1="239.16" x2="402.5" y2="239.16" stroke="#1e1e1e" stroke-width="1.15" />
<text x="396.7" y="241.46" font-size="7.4" text-anchor="end" fill="#2a2a2a" stroke="#2a2a2a" stroke-width="0.15" >0</text>
<line x1="399.7" y1="223.28" x2="402.5" y2="223.28" stroke="#1e1e1e" stroke-width="1.15" />
<text x="396.7" y="225.58" font-size="7.4" text-anchor="end" fill="#2a2a2a" stroke="#2a2a2a" stroke-width="0.15" >10</text>
<line x1="399.7" y1="207.4" x2="402.5" y2="207.4" stroke="#1e1e1e" stroke-width="1.15" />
<text x="396.7" y="209.7" font-size="7.4" text-anchor="end" fill="#2a2a2a" stroke="#2a2a2a" stroke-width="0.15" >20</text>
<line x1="402" y1="286.8" x2="456.2" y2="286.8" stroke="#1e1e1e" stroke-width="1.15" />
<line x1="417.6" y1="286.8" x2="417.6" y2="288.8" stroke="#1e1e1e" stroke-width="1.15" />
<line x1="440.5" y1="286.8" x2="440.5" y2="288.8" stroke="#1e1e1e" stroke-width="1.15" />
<line x1="404" y1="239.16" x2="456.5" y2="239.16" stroke="#606060" stroke-width="0.9" stroke-dasharray="1 1"/>
<line x1="402.5" y1="255.04" x2="455.8" y2="255.04" stroke="#62b6e0" stroke-width="1.1"/>
<line x1="417.6" y1="239.16" x2="440.5" y2="212.5" stroke="#f29a1c" stroke-width="1.0" />
<circle cx="440.5" cy="212.5" r="1.2" fill="#e88a10"/>
<line x1="417.6" y1="239.16" x2="440.5" y2="245" stroke="#f29a1c" stroke-width="1.0" />
<circle cx="440.5" cy="245" r="1.2" fill="#e88a10"/>
<line x1="417.6" y1="239.16" x2="440.5" y2="247.5" stroke="#f29a1c" stroke-width="1.0" />
<circle cx="440.5" cy="247.5" r="1.2" fill="#e88a10"/>
<line x1="417.6" y1="239.16" x2="440.5" y2="250.8" stroke="#f29a1c" stroke-width="1.0" />
<circle cx="440.5" cy="250.8" r="1.2" fill="#e88a10"/>
<line x1="417.6" y1="239.16" x2="440.5" y2="257" stroke="#f29a1c" stroke-width="1.0" />
<circle cx="440.5" cy="257" r="1.2" fill="#e88a10"/>
<line x1="417.6" y1="239.16" x2="440.5" y2="260.8" stroke="#f29a1c" stroke-width="1.0" />
<circle cx="440.5" cy="260.8" r="1.2" fill="#e88a10"/>
<line x1="417.6" y1="239.16" x2="440.5" y2="268.3" stroke="#f29a1c" stroke-width="1.0" />
<circle cx="440.5" cy="268.3" r="1.2" fill="#e88a10"/>
<line x1="417.6" y1="239.16" x2="440.5" y2="281.2" stroke="#f29a1c" stroke-width="1.0" />
<circle cx="440.5" cy="281.2" r="1.2" fill="#e88a10"/>
<circle cx="417.6" cy="239.16" r="1.2" fill="#ea9020"/>
<text x="377.6" y="246.6" font-size="9.2" text-anchor="middle" fill="#2a2a2a" font-weight="bold" textLength="71" lengthAdjust="spacingAndGlyphs" transform="rotate(-90 377.6 246.6)" >Change from baseline (%)</text>
<text x="417.4" y="299.3" font-size="7.3" text-anchor="middle" fill="#2a2a2a" stroke="#2a2a2a" stroke-width="0.15" >BL</text>
<text x="440.6" y="299.3" font-size="7.3" text-anchor="middle" fill="#2a2a2a" stroke="#2a2a2a" stroke-width="0.15" textLength="19.2" lengthAdjust="spacingAndGlyphs" >FDEP</text>
<text x="183.6" y="357.1" font-size="10.8" text-anchor="start" fill="#000" stroke="#000" stroke-width="0.3" font-weight="bold" >H</text>
<text x="258.3" y="367.8" font-size="8.8" text-anchor="middle" fill="#1a1a1a" stroke="#1a1a1a" stroke-width="0.1" >p50</text>
<line x1="217.3" y1="373.4" x2="217.3" y2="444.4" stroke="#1e1e1e" stroke-width="1.15" />
<line x1="214.5" y1="375.8" x2="217.3" y2="375.8" stroke="#1e1e1e" stroke-width="1.15" />
<text x="211.5" y="378.1" font-size="7.4" text-anchor="end" fill="#2a2a2a" stroke="#2a2a2a" stroke-width="0.15" >25</text>
<line x1="214.5" y1="410" x2="217.3" y2="410" stroke="#1e1e1e" stroke-width="1.15" />
<text x="211.5" y="412.3" font-size="7.4" text-anchor="end" fill="#2a2a2a" stroke="#2a2a2a" stroke-width="0.15" >20</text>
<line x1="214.5" y1="443.8" x2="217.3" y2="443.8" stroke="#1e1e1e" stroke-width="1.15" />
<text x="211.5" y="446.1" font-size="7.4" text-anchor="end" fill="#2a2a2a" stroke="#2a2a2a" stroke-width="0.15" >15</text>
<line x1="217.3" y1="449.5" x2="217.3" y2="457.6" stroke="#1e1e1e" stroke-width="1.15" />
<line x1="214.5" y1="450.5" x2="217.3" y2="450.5" stroke="#1e1e1e" stroke-width="1.15" />
<text x="211.5" y="452.8" font-size="7.4" text-anchor="end" fill="#2a2a2a" stroke="#2a2a2a" stroke-width="0.15" >15</text>
<line x1="214.5" y1="457.5" x2="300" y2="457.5" stroke="#1e1e1e" stroke-width="1.15" />
<text x="211.5" y="459.8" font-size="7.4" text-anchor="end" fill="#2a2a2a" stroke="#2a2a2a" stroke-width="0.15" >0</text>
<rect x="222.8" y="402.8" width="9.1" height="41" fill="#c3c3c7"/>
<rect x="222.8" y="450.3" width="9.1" height="6.6" fill="#c3c3c7"/>
<path d="M227.35,402.8V400.7M225.55,400.7H229.15" stroke="#a8a8ae" stroke-width="0.9" fill="none"/>
<line x1="227.35" y1="457.5" x2="227.35" y2="459.5" stroke="#1e1e1e" stroke-width="1.15" />
<rect x="238" y="383" width="9.3" height="60.8" fill="#c8102e"/>
<rect x="238" y="450.3" width="9.3" height="6.6" fill="#c8102e"/>
<path d="M242.65,383V377.5M240.85,377.5H244.45" stroke="#9a1428" stroke-width="0.9" fill="none"/>
<line x1="242.65" y1="457.5" x2="242.65" y2="459.5" stroke="#1e1e1e" stroke-width="1.15" />
<rect x="253.1" y="400.1" width="9.7" height="43.7" fill="#1b4a88"/>
<rect x="253.1" y="450.3" width="9.7" height="6.6" fill="#1b4a88"/>
<path d="M257.95,400.1V396.6M256.15,396.6H259.75" stroke="#153d70" stroke-width="0.9" fill="none"/>
<line x1="257.95" y1="457.5" x2="257.95" y2="459.5" stroke="#1e1e1e" stroke-width="1.15" />
<rect x="268.5" y="394" width="9.7" height="49.8" fill="#7483ad"/>
<rect x="268.5" y="450.3" width="9.7" height="6.6" fill="#7483ad"/>
<path d="M273.35,394V390.5M271.55,390.5H275.15" stroke="#5c6a94" stroke-width="0.9" fill="none"/>
<line x1="273.35" y1="457.5" x2="273.35" y2="459.5" stroke="#1e1e1e" stroke-width="1.15" />
<rect x="284.4" y="390.9" width="9.2" height="52.9" fill="#b9bdd9"/>
<rect x="284.4" y="450.3" width="9.2" height="6.6" fill="#b9bdd9"/>
<path d="M289,390.9V383.7M287.2,383.7H290.8" stroke="#a3a8c8" stroke-width="0.9" fill="none"/>
<line x1="289" y1="457.5" x2="289" y2="459.5" stroke="#1e1e1e" stroke-width="1.15" />
<line x1="235.2" y1="373.5" x2="235.2" y2="457" stroke="#8a8a8a" stroke-width="0.8" stroke-dasharray="0.8 1.2"/>
<line x1="235.2" y1="459" x2="235.2" y2="482" stroke="#aaa" stroke-width="0.8" stroke-dasharray="0.8 1.2"/>
<text x="198.9" y="417.2" font-size="7.6" text-anchor="middle" fill="#2a2a2a" stroke="#2a2a2a" stroke-width="0.15" textLength="41.3" lengthAdjust="spacingAndGlyphs" transform="rotate(-90 198.9 417.2)" >p50 (mmHg)</text>
<text x="230.35" y="468.5" font-size="8.3" text-anchor="end" fill="#2a2a2a" stroke="#2a2a2a" stroke-width="0.12" transform="rotate(-45 230.35 468.5)" >Ctr</text>
<text x="248.95" y="468.5" font-size="8.3" text-anchor="end" fill="#2a2a2a" stroke="#2a2a2a" stroke-width="0.12" transform="rotate(-45 248.95 468.5)" >BL</text>
<text x="262.35" y="468.6" font-size="8.3" text-anchor="end" fill="#2a2a2a" stroke="#2a2a2a" stroke-width="0.12" transform="rotate(-45 262.35 468.6)" >D56/W0</text>
<text x="278.65" y="469.1" font-size="8.3" text-anchor="end" fill="#2a2a2a" stroke="#2a2a2a" stroke-width="0.12" transform="rotate(-45 278.65 469.1)" >W24</text>
<text x="294.3" y="469.1" font-size="8.3" text-anchor="end" fill="#2a2a2a" stroke="#2a2a2a" stroke-width="0.12" transform="rotate(-45 294.3 469.1)" >W52</text>
<text x="258.5" y="501.3" font-size="9" text-anchor="middle" fill="#2a2a2a" stroke="#2a2a2a" stroke-width="0.15" font-weight="bold" textLength="12.8" lengthAdjust="spacingAndGlyphs" >Time</text>
<text x="355.8" y="357.1" font-size="10.8" text-anchor="start" fill="#000" stroke="#000" stroke-width="0.3" font-weight="bold" >I</text>
<text x="430.9" y="368" font-size="7.8" text-anchor="middle" fill="#1a1a1a" stroke="#1a1a1a" stroke-width="0.1" textLength="65" lengthAdjust="spacingAndGlyphs" >ATP/2,3-DPG ratio</text>
<line x1="389.1" y1="373.4" x2="389.1" y2="457.5" stroke="#1e1e1e" stroke-width="1.15" />
<line x1="386.3" y1="457.5" x2="389.1" y2="457.5" stroke="#1e1e1e" stroke-width="1.15" />
<text x="383.3" y="459.8" font-size="7.4" text-anchor="end" fill="#2a2a2a" stroke="#2a2a2a" stroke-width="0.15" >0.00</text>
<line x1="386.3" y1="430.23" x2="389.1" y2="430.23" stroke="#1e1e1e" stroke-width="1.15" />
<text x="383.3" y="432.53" font-size="7.4" text-anchor="end" fill="#2a2a2a" stroke="#2a2a2a" stroke-width="0.15" >0.20</text>
<line x1="386.3" y1="402.97" x2="389.1" y2="402.97" stroke="#1e1e1e" stroke-width="1.15" />
<text x="383.3" y="405.27" font-size="7.4" text-anchor="end" fill="#2a2a2a" stroke="#2a2a2a" stroke-width="0.15" >0.40</text>
<line x1="386.3" y1="375.7" x2="389.1" y2="375.7" stroke="#1e1e1e" stroke-width="1.15" />
<text x="383.3" y="378" font-size="7.4" text-anchor="end" fill="#2a2a2a" stroke="#2a2a2a" stroke-width="0.15" >0.60</text>
<line x1="386.3" y1="457.5" x2="471.5" y2="457.5" stroke="#1e1e1e" stroke-width="1.15" />
<rect x="395.6" y="414.4" width="9.3" height="43.1" fill="#c3c3c7"/>
<path d="M400.25,414.4V412.4M398.45,412.4H402.05" stroke="#a8a8ae" stroke-width="0.9" fill="none"/>
<line x1="400.25" y1="457.5" x2="400.25" y2="459.5" stroke="#1e1e1e" stroke-width="1.15" />
<rect x="410.7" y="423.2" width="9.7" height="34.3" fill="#c8102e"/>
<path d="M415.55,423.2V420.8M413.75,420.8H417.35" stroke="#9a1428" stroke-width="0.9" fill="none"/>
<line x1="415.55" y1="457.5" x2="415.55" y2="459.5" stroke="#1e1e1e" stroke-width="1.15" />
<rect x="426.2" y="394.9" width="9.3" height="62.6" fill="#1b4a88"/>
<path d="M430.85,394.9V390.2M429.05,390.2H432.65" stroke="#153d70" stroke-width="0.9" fill="none"/>
<line x1="430.85" y1="457.5" x2="430.85" y2="459.5" stroke="#1e1e1e" stroke-width="1.15" />
<rect x="441.5" y="404.2" width="9.5" height="53.3" fill="#7483ad"/>
<path d="M446.25,404.2V399.9M444.45,399.9H448.05" stroke="#5c6a94" stroke-width="0.9" fill="none"/>
<line x1="446.25" y1="457.5" x2="446.25" y2="459.5" stroke="#1e1e1e" stroke-width="1.15" />
<rect x="456.6" y="399.9" width="9.5" height="57.6" fill="#b9bdd9"/>
<path d="M461.35,399.9V397.1M459.55,397.1H463.15" stroke="#a3a8c8" stroke-width="0.9" fill="none"/>
<line x1="461.35" y1="457.5" x2="461.35" y2="459.5" stroke="#1e1e1e" stroke-width="1.15" />
<line x1="407.9" y1="373.5" x2="407.9" y2="457" stroke="#4a3a3a" stroke-width="1" stroke-dasharray="0.8 1.2"/>
<line x1="407.9" y1="459" x2="407.9" y2="482" stroke="#aaa" stroke-width="0.8" stroke-dasharray="0.8 1.2"/>
<text x="363.2" y="412.5" font-size="9" text-anchor="middle" fill="#2a2a2a" font-weight="bold" textLength="46.3" lengthAdjust="spacingAndGlyphs" transform="rotate(-90 363.2 412.5)" >ATP/2,3-DPG ratio</text>
<text x="403.25" y="468.5" font-size="8.3" text-anchor="end" fill="#2a2a2a" stroke="#2a2a2a" stroke-width="0.12" transform="rotate(-45 403.25 468.5)" >Ctr</text>
<text x="421.85" y="468.5" font-size="8.3" text-anchor="end" fill="#2a2a2a" stroke="#2a2a2a" stroke-width="0.12" transform="rotate(-45 421.85 468.5)" >BL</text>
<text x="435.25" y="468.6" font-size="8.3" text-anchor="end" fill="#2a2a2a" stroke="#2a2a2a" stroke-width="0.12" transform="rotate(-45 435.25 468.6)" >D56/W0</text>
<text x="451.55" y="469.1" font-size="8.3" text-anchor="end" fill="#2a2a2a" stroke="#2a2a2a" stroke-width="0.12" transform="rotate(-45 451.55 469.1)" >W24</text>
<text x="466.65" y="469.1" font-size="8.3" text-anchor="end" fill="#2a2a2a" stroke="#2a2a2a" stroke-width="0.12" transform="rotate(-45 466.65 469.1)" >W52</text>
<text x="431" y="501.3" font-size="9" text-anchor="middle" fill="#2a2a2a" stroke="#2a2a2a" stroke-width="0.15" font-weight="bold" textLength="12.8" lengthAdjust="spacingAndGlyphs" >Time</text>
<rect x="0.5" y="0.5" width="519" height="509" fill="none" stroke="#666" stroke-width="1"/>
</svg></body></html>
